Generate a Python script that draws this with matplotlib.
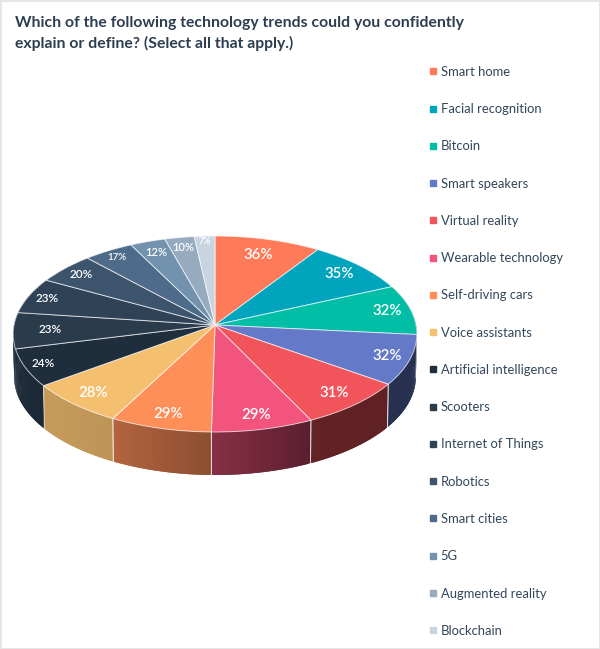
import numpy as np
import matplotlib
matplotlib.use("Agg")
import matplotlib.pyplot as plt
from matplotlib.transforms import Transform
from matplotlib.collections import PolyCollection
from matplotlib.lines import Line2D
from matplotlib.patches import Rectangle
from matplotlib.colors import to_rgb

# ---- data ----
categories = ["Smart home", "Facial recognition", "Bitcoin", "Smart speakers", "Virtual reality",
              "Wearable technology", "Self-driving cars", "Voice assistants", "Artificial intelligence",
              "Scooters", "Internet of Things", "Robotics", "Smart cities", "5G", "Augmented reality",
              "Blockchain"]
values = [36, 35, 32, 32, 31, 29, 29, 28, 24, 23, 23, 20, 17, 12, 10, 7]
title = "Which of the following technology trends could you confidently\nexplain or define? (Select all that apply.)"

# ---- style ----
colors = ["#FF7A59", "#00A4BD", "#00BDA5", "#6579C9", "#F2545B", "#F2547D", "#FF8F59", "#F5BF70",
          "#1F2E3D", "#2A3B4C", "#2F4256", "#3C546C", "#4E6C8A", "#7392AE", "#97ABC0", "#C8D4E0"]
# wall brightness (start, end), clockwise, for slices whose side is visible
wall_shade = {3: (.40, .40), 4: (.39, .41), 5: (.37, .56), 6: (.55, .70), 7: (.78, .81),
              8: (.90, .95), 9: (.95, .95), 10: (.9, .9), 2: (.4, .4)}
label_r = [.80, .85, .88, .89, .86, .87, .87, .87, .91, .82, .90, .89, .91, .86, .88, .93]
label_fs = [10.8] * 8 + [8.5, 8.5, 8.5, 8.5, 7, 8, 8, 6.5]
TEXT = "#33475B"
CX, CY, B, A, K = 215.0, 325.0, 201.0, 97.2, 0.0917
DEPTH, SHRINK = 43.0, 0.995

plt.rcParams["font.family"] = ["Lato", "DejaVu Sans"]


class Perspective(Transform):
    """Tilted-disc projection of the unit pie into figure pixels."""
    input_dims = output_dims = 2

    def __init__(self, drop=0.0, shrink=1.0):
        super().__init__()
        self.drop, self.shrink = drop, shrink

    def transform_non_affine(self, xy):
        xy = np.asarray(xy, float)
        w = 1 + K * xy[:, 1]
        return np.column_stack([CX + self.shrink * B * xy[:, 0] / w,
                                CY + self.drop - A * xy[:, 1] / w])


fig = plt.figure(figsize=(6.0, 6.49), dpi=100, facecolor="white")
ax = fig.add_axes([0, 0, 1, 1])

wedges, _ = ax.pie(values, colors=colors, startangle=90, counterclock=False,
                   wedgeprops=dict(edgecolor=(1, 1, 1, .65), linewidth=.7))
ax.set_aspect("auto")
ax.set_xlim(0, 600)
ax.set_ylim(649, 0)
ax.axis("off")

top = Perspective() + ax.transData
bottom = Perspective(DEPTH, SHRINK)
top_data = Perspective()

# side walls, back to front
def rim(t):
    return np.column_stack([np.cos(np.radians(t)), np.sin(np.radians(t))])

order = sorted(wall_shade, key=lambda i: -np.sin(np.radians((wedges[i].theta1 + wedges[i].theta2) / 2)))
for i in order:
    t2, t1 = wedges[i].theta2, wedges[i].theta1
    ts = np.linspace(t2, t1, 41)
    s0, s1 = wall_shade[i]
    base = np.array(to_rgb(colors[i]))
    polys, fcs = [], []
    up, lo = top_data.transform(rim(ts)), bottom.transform(rim(ts))
    for j in range(len(ts) - 1):
        k = min(j + 2, len(ts) - 1)   # overlap neighbours so no seams show
        polys.append([up[j], up[k], lo[k], lo[j]])
        fcs.append(base * (s0 + (s1 - s0) * j / (len(ts) - 2)))
    ax.add_collection(PolyCollection(polys, facecolors=fcs, edgecolors="none", zorder=1))
    if 3 <= i <= 7:
        ax.plot([up[0][0], lo[0][0]], [up[0][1], lo[0][1]], color=(1, 1, 1, .6), lw=.7, zorder=1.5)
        ax.plot([up[-1][0], lo[-1][0]], [up[-1][1], lo[-1][1]], color=(1, 1, 1, .6), lw=.7, zorder=1.5)

for w in wedges:
    w.set_transform(top)
    w.set_zorder(2)
    w.set_clip_on(False)

# value labels
for w, v, r, fs in zip(wedges, values, label_r, label_fs):
    m = np.radians((w.theta1 + w.theta2) / 2)
    ax.text(r * np.cos(m), r * np.sin(m), f"{v}%", transform=top, color="white", fontsize=fs,
            fontweight=600, ha="center", va="center", zorder=3)

# legend
handles = [Line2D([], [], ls="", marker="s", ms=4.6, mfc=c, mec=c, label=n) for c, n in zip(colors, categories)]
ax.legend(handles=handles, loc="upper left", bbox_to_anchor=(0.7133, 0.8985), bbox_transform=fig.transFigure,
          frameon=False, fontsize=9.4, labelcolor=TEXT, labelspacing=1.935, handlelength=0.7,
          handletextpad=0.28, borderpad=0, borderaxespad=0)

# title
fig.text(15 / 600, 1 - 16 / 649, title, fontsize=11.37, fontweight="bold", color="#2D3E50",
         ha="left", va="top", linespacing=1.48)

# thin screenshot border
for rect in [(0, 0, 1.5 / 600, 1), (1 - 1.5 / 600, 0, 1.5 / 600, 1),
             (0, 1 - 1.5 / 649, 1, 1.5 / 649), (0, 0, 1, 1.5 / 649)]:
    fig.add_artist(Rectangle(rect[:2], rect[2], rect[3], transform=fig.transFigure, color="#E6E6E6", lw=0))

fig.savefig("out.png", dpi=100)
